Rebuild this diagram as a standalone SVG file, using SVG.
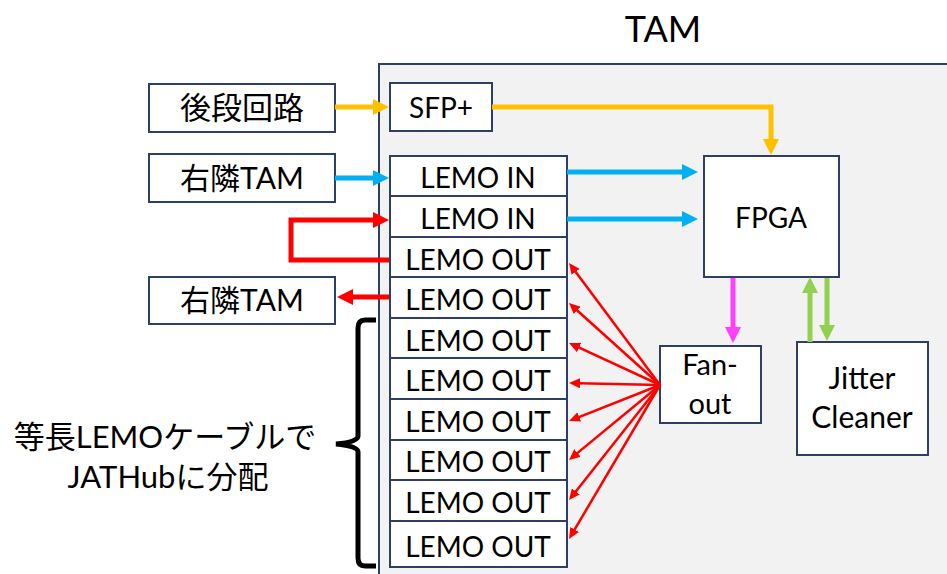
<svg xmlns="http://www.w3.org/2000/svg" width="947" height="574" viewBox="0 0 947 574">
<style>
.box{fill:#ffffff;stroke:#2E3F63;stroke-width:2}
.t{font-family:Lato,"Noto Sans CJK JP",sans-serif;fill:#000;text-anchor:middle}
.lemo{font-size:28px}
.thick{fill:none;stroke-width:5}
.thin{fill:none;stroke-width:2.5;stroke:#FF0000}
</style>
<defs>
<marker id="aY" markerUnits="userSpaceOnUse" markerWidth="16" markerHeight="16" refX="2" refY="8" orient="auto"><path d="M0,0L16,8L0,16z" fill="#FFC000"/></marker>
<marker id="aB" markerUnits="userSpaceOnUse" markerWidth="16" markerHeight="16" refX="2" refY="8" orient="auto"><path d="M0,0L16,8L0,16z" fill="#00B0F0"/></marker>
<marker id="aR" markerUnits="userSpaceOnUse" markerWidth="16" markerHeight="16" refX="2" refY="8" orient="auto"><path d="M0,0L16,8L0,16z" fill="#FF0000"/></marker>
<marker id="aM" markerUnits="userSpaceOnUse" markerWidth="16" markerHeight="16" refX="2" refY="8" orient="auto"><path d="M0,0L16,8L0,16z" fill="#FF40FF"/></marker>
<marker id="aG" markerUnits="userSpaceOnUse" markerWidth="16" markerHeight="16" refX="2" refY="8" orient="auto"><path d="M0,0L16,8L0,16z" fill="#92D050"/></marker>
<marker id="aRs" markerUnits="userSpaceOnUse" markerWidth="11" markerHeight="10" refX="1" refY="5" orient="auto"><path d="M0,0L11,5L0,10z" fill="#FF0000"/></marker>
</defs>
<rect width="947" height="574" fill="#ffffff"/>
<g id="tam">
<rect x="379" y="64" width="600" height="560" fill="#F2F2F2" stroke="#2E3F63" stroke-width="2"/>
<text class="t" x="663" y="42" font-size="36">TAM</text>
</g>
<g id="kodan">
<rect class="box" x="149" y="84" width="186" height="48"/>
<text class="t" x="242" y="119" font-size="31">後段回路</text>
</g>
<g id="migi1">
<rect class="box" x="149" y="154" width="186" height="48"/>
<text class="t" x="242" y="189" font-size="30">右隣TAM</text>
</g>
<g id="migi2">
<rect class="box" x="149" y="277" width="186" height="47"/>
<text class="t" x="242" y="311" font-size="30">右隣TAM</text>
</g>
<g id="sfp">
<rect class="box" x="390" y="83" width="102" height="48"/>
<text class="t" x="441" y="118" font-size="28">SFP+</text>
</g>
<g id="lemo1"><rect class="box" x="390" y="156" width="177" height="40"/><text class="t lemo" x="478" y="188">LEMO IN</text></g>
<g id="lemo2"><rect class="box" x="390" y="196" width="177" height="41"/><text class="t lemo" x="478" y="229">LEMO IN</text></g>
<g id="lemo3"><rect class="box" x="390" y="237" width="177" height="40"/><text class="t lemo" x="478" y="270">LEMO OUT</text></g>
<g id="lemo4"><rect class="box" x="390" y="277" width="177" height="41"/><text class="t lemo" x="478" y="310">LEMO OUT</text></g>
<g id="lemo5"><rect class="box" x="390" y="318" width="177" height="40"/><text class="t lemo" x="478" y="351">LEMO OUT</text></g>
<g id="lemo6"><rect class="box" x="390" y="358" width="177" height="41"/><text class="t lemo" x="478" y="391">LEMO OUT</text></g>
<g id="lemo7"><rect class="box" x="390" y="399" width="177" height="41"/><text class="t lemo" x="478" y="432">LEMO OUT</text></g>
<g id="lemo8"><rect class="box" x="390" y="440" width="177" height="40"/><text class="t lemo" x="478" y="472">LEMO OUT</text></g>
<g id="lemo9"><rect class="box" x="390" y="480" width="177" height="41"/><text class="t lemo" x="478" y="513">LEMO OUT</text></g>
<g id="lemo10"><rect class="box" x="390" y="521" width="177" height="46"/><text class="t lemo" x="478" y="557">LEMO OUT</text></g>
<g id="fpga">
<rect class="box" x="704" y="156" width="135" height="121"/>
<text class="t" x="771" y="228" font-size="28">FPGA</text>
</g>
<g id="fanout">
<rect class="box" x="660" y="346" width="101" height="77"/>
<text class="t" x="710" y="375" font-size="29">Fan-</text>
<text class="t" x="710" y="414" font-size="29">out</text>
</g>
<g id="jitter">
<rect class="box" x="797" y="342" width="131" height="113"/>
<text class="t" x="862" y="389" font-size="30">Jitter</text>
<text class="t" x="862" y="428" font-size="30">Cleaner</text>
</g>
<g id="note">
<text class="t" x="165" y="448" font-size="31">等長LEMOケーブルで</text>
<text class="t" x="168" y="488" font-size="31">JATHubに分配</text>
<path d="M376,320 H365 Q358,320 358,328 V436 Q358,442 336,444 Q358,446 358,452 V558 Q358,566 365,566 H376" fill="none" stroke="#000" stroke-width="5"/>
</g>
<g id="connectors">
<path class="thick" stroke="#FFC000" d="M335,107 H375" marker-end="url(#aY)"/>
<path class="thick" stroke="#FFC000" d="M492,107 H771 V141" marker-end="url(#aY)"/>
<path class="thick" stroke="#00B0F0" d="M335,178 H375" marker-end="url(#aB)"/>
<path class="thick" stroke="#00B0F0" d="M567,172 H684" marker-end="url(#aB)"/>
<path class="thick" stroke="#00B0F0" d="M567,219 H684" marker-end="url(#aB)"/>
<path class="thick" stroke="#FF0000" d="M389,260 H291 V220 H375" marker-end="url(#aR)"/>
<path class="thick" stroke="#FF0000" d="M389,297 H351" marker-end="url(#aR)"/>
<path class="thick" stroke="#FF40FF" d="M733,278 V329" marker-end="url(#aM)"/>
<path class="thick" stroke="#92D050" d="M810,342 V291" marker-end="url(#aG)"/>
<path class="thick" stroke="#92D050" d="M827,278 V327" marker-end="url(#aG)"/>
<path class="thin" d="M660,385 L575,271" marker-end="url(#aRs)"/>
<path class="thin" d="M660,385 L576.4,309.7" marker-end="url(#aRs)"/>
<path class="thin" d="M660,385 L578.1,347.2" marker-end="url(#aRs)"/>
<path class="thin" d="M660,385 L579,383.2" marker-end="url(#aRs)"/>
<path class="thin" d="M660,385 L578.3,417.3" marker-end="url(#aRs)"/>
<path class="thin" d="M660,385 L576.7,453.6" marker-end="url(#aRs)"/>
<path class="thin" d="M660,385 L575.2,492.2" marker-end="url(#aRs)"/>
<path class="thin" d="M660,385 L574.1,530.4" marker-end="url(#aRs)"/>
</g>
</svg>
